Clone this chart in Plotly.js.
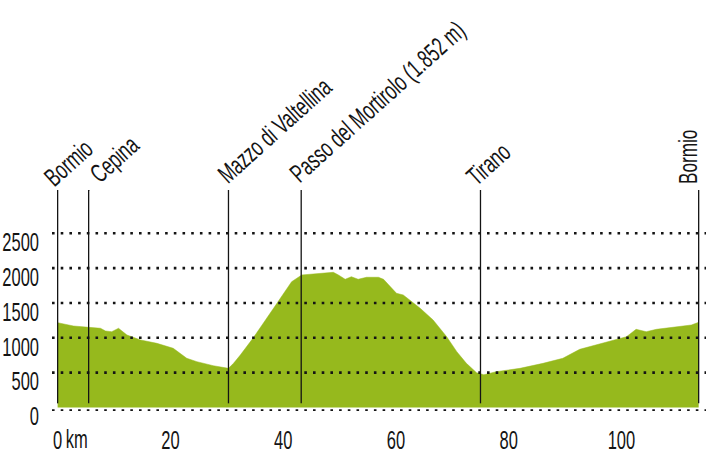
<!DOCTYPE html>
<html>
<head>
<meta charset="utf-8">
<script src="https://cdn.plot.ly/plotly-3.0.1.min.js"></script>
<style>
html,body{margin:0;padding:0;background:#fff;}
#chart{width:712px;height:455px;}
</style>
</head>
<body>
<div id="chart"></div>
<script>
// Elevation profile (km, m)
const distanceKm = [0, 2.8, 5.5, 7.6, 8.5, 9.6, 10.8, 12.3, 14.7, 17.6, 20.5, 22.9, 24.7, 27.6, 30.3, 31.2, 32.4, 34.7, 38.9, 41.5, 43.3, 47.7, 48.9, 49.8, 51.0, 52.1, 53.3, 54.8, 56.9, 57.8, 60.1, 61.3, 62.5, 64.3, 66.6, 69.0, 70.8, 72.5, 74.3, 75.6, 77.8, 82.0, 86.1, 89.6, 92.6, 95.6, 98.5, 100.9, 102.6, 104.4, 106.2, 109.7, 112.4, 113.7];
const elevationM = [1217, 1170, 1151, 1137, 1098, 1088, 1137, 1040, 969, 921, 850, 706, 658, 600, 562, 634, 753, 1000, 1495, 1805, 1902, 1926, 1940, 1902, 1840, 1877, 1840, 1869, 1869, 1840, 1639, 1615, 1543, 1424, 1256, 1016, 801, 634, 500, 470, 514, 562, 634, 706, 835, 897, 959, 1016, 1122, 1088, 1122, 1160, 1184, 1223];

// Waypoints
const placeNames = ["Bormio", "Cepina", "Mazzo di Valtellina", "Passo del Mortirolo (1.852 m)", "Tirano", "Bormio"];
const placeKm = [0, 5.5, 30.3, 43.2, 75.0, 113.7];

// Axis ticks
const yTickVals = [0, 500, 1000, 1500, 2000, 2500];
const yTickText = ["0", "500", "1000", "1500", "2000", "2500"];
const gridVals = [500, 1000, 1500, 2000, 2500];
const xTickVals = [0, 20, 40, 60, 80, 100];
const xTickText = ["0", "20", "40", "60", "80", "100"];
const xDotVals = [0, 10, 20, 30, 40, 50, 60, 70, 80, 90, 100, 110];

// label placement (pixel offsets of label centres from the top of each marker line)
const labelShiftX = [10.4, 25.9, 46.5, 75.8, 8, -11.2];
const labelShiftY = [27.5, 31, 60, 88, 26, 33.5];
const labelAngle = [-42, -42, -42, -42, -42, -90];

const FONT = '"Liberation Sans", Arial, sans-serif';
const GREEN = '#96b91d';
const INK = '#141414';
const Y_TOP = 3121;
const Y_BOTTOM = -50;
const SQUEEZE = 0.66;

const traces = [
  {
    x: distanceKm, y: elevationM, type: 'scatter', mode: 'lines',
    fill: 'tozeroy', fillcolor: GREEN, line: {color: GREEN, width: 0.5},
    hoverinfo: 'skip'
  },
  {
    x: xDotVals, y: xDotVals.map(() => -179), type: 'scatter', mode: 'markers',
    marker: {color: INK, size: 3}, cliponaxis: false, hoverinfo: 'skip'
  }
];

const shapes = [];
gridVals.forEach(v => shapes.push({
  type: 'line', xref: 'paper', x0: 0, x1: 1, yref: 'y', y0: v, y1: v,
  line: {color: INK, width: 2.6, dash: '2.6px,6.1px'}, layer: 'above'
}));
shapes.push({
  type: 'line', xref: 'paper', x0: 0, x1: 1, yref: 'y', y0: -45, y1: -45,
  line: {color: INK, width: 2.6, dash: '2.6px,6.1px'}, layer: 'above'
});
placeKm.forEach((k, i) => shapes.push({
  type: 'line', xref: 'x', x0: k, x1: k, yref: 'y', y0: 60, y1: Y_TOP,
  line: {color: INK, width: 1.3}, layer: 'above'
}));
// little hook at top of the Cepina line
shapes.push({
  type: 'path', xref: 'x', yref: 'y', xsizemode: 'pixel', ysizemode: 'pixel',
  xanchor: placeKm[1], yanchor: Y_TOP, path: 'M0,-1 Q0,5 6,7',
  line: {color: INK, width: 1.3}, layer: 'above'
});

const annotations = placeNames.map((name, i) => ({
  text: name, x: placeKm[i], y: Y_TOP, xref: 'x', yref: 'y',
  showarrow: false, textangle: labelAngle[i],
  xanchor: 'center', yanchor: 'middle',
  xshift: labelShiftX[i], yshift: labelShiftY[i],
  font: {family: FONT, size: 26, color: INK}
}));
annotations.push({
  text: 'km', x: 0, y: -0.127, xref: 'x', yref: 'paper', showarrow: false,
  xanchor: 'center', yanchor: 'middle', xshift: 19,
  font: {family: FONT, size: 25, color: INK}
});

const layout = {
  width: 712, height: 455,
  margin: {l: 52, r: 6, t: 190, b: 44},
  paper_bgcolor: '#fff', plot_bgcolor: '#fff',
  showlegend: false,
  xaxis: {
    range: [-1, 115], showgrid: false, zeroline: false, showline: false,
    tickvals: xTickVals, ticktext: xTickText, ticks: '',
    ticklabelstandoff: 12,
    tickfont: {family: FONT, size: 25, color: INK}
  },
  yaxis: {
    range: [Y_BOTTOM, Y_TOP], showgrid: false, zeroline: false, showline: false,
    tickvals: yTickVals, ticktext: yTickText, ticks: '',
    ticklabelshift: 9, ticklabelstandoff: 12,
    tickfont: {family: FONT, size: 25, color: INK}
  },
  shapes: shapes,
  annotations: annotations
};

Plotly.newPlot('chart', traces, layout, {displayModeBar: false, staticPlot: true}).then(gd => {
  // emulate the condensed typeface of the original
  gd.querySelectorAll('.xtick text, .ytick text, .annotation-text').forEach(el => {
    const w = el.getComputedTextLength();
    el.setAttribute('textLength', (w * SQUEEZE).toFixed(2));
    el.setAttribute('lengthAdjust', 'spacingAndGlyphs');
  });
});
</script>
</body>
</html>
